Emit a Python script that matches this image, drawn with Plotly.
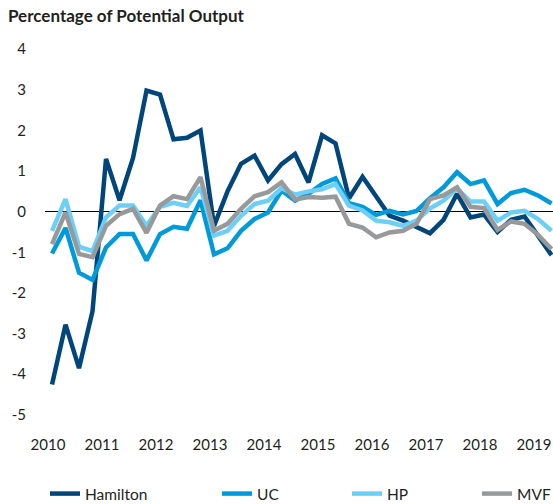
import plotly.graph_objects as go

quarters = [f"{y}Q{q}" for y in range(2010, 2020) for q in range(1, 5)][:38]
years = ["2010", "2011", "2012", "2013", "2014", "2015", "2016", "2017", "2018", "2019"]
year_pos = [quarters.index(f"{y}Q1") for y in years]

hamilton = [-4.25, -2.78, -3.85, -2.45, 1.30, 0.28, 1.32, 2.98, 2.88, 1.78,
            1.82, 2.00, -0.35, 0.50, 1.18, 1.38, 0.77, 1.17, 1.42, 0.72,
            1.88, 1.68, 0.33, 0.86, 0.38, -0.10, -0.22, -0.38, -0.53, -0.20,
            0.44, -0.14, -0.07, -0.50, -0.20, -0.12, -0.60, -1.07]
uc = [-1.03, -0.40, -1.50, -1.68, -0.88, -0.55, -0.55, -1.20, -0.55, -0.37,
      -0.42, 0.28, -1.05, -0.90, -0.47, -0.18, -0.02, 0.52, 0.27, 0.44,
      0.68, 0.82, 0.21, 0.12, -0.08, 0.02, -0.07, 0.02, 0.33, 0.60,
      0.97, 0.68, 0.77, 0.19, 0.46, 0.54, 0.40, 0.20]
hp = [-0.47, 0.31, -0.86, -0.97, -0.14, 0.15, 0.15, -0.35, 0.12, 0.22,
      0.14, 0.60, -0.59, -0.47, -0.10, 0.19, 0.27, 0.58, 0.42, 0.50,
      0.55, 0.68, 0.15, 0.03, -0.22, -0.26, -0.35, -0.22, 0.08, 0.27,
      0.57, 0.25, 0.25, -0.22, -0.02, 0.02, -0.18, -0.47]
mvf = [-0.80, -0.02, -1.04, -1.12, -0.35, -0.06, 0.07, -0.52, 0.15, 0.38,
       0.31, 0.85, -0.47, -0.30, 0.07, 0.38, 0.48, 0.72, 0.30, 0.36,
       0.34, 0.37, -0.30, -0.39, -0.63, -0.51, -0.47, -0.30, 0.31, 0.40,
       0.60, 0.12, 0.09, -0.45, -0.24, -0.30, -0.57, -0.92]

y_ticks = [-5, -4, -3, -2, -1, 0, 1, 2, 3, 4]

series = [
    ("Hamilton", hamilton, "#00467A", "legend"),
    ("UC", uc, "#009ADA", "legend2"),
    ("HP", hp, "#6DCFF6", "legend3"),
    ("MVF", mvf, "#98999B", "legend4"),
]

x = list(range(len(quarters)))
FONT = "Lato"
TXT = "#231f20"

fig = go.Figure()
for name, vals, color, leg in series:
    fig.add_trace(go.Scatter(
        x=x, y=vals, name=name, mode="lines",
        line=dict(color=color, width=4.5, shape="linear"),
        legend=leg,
        hovertext=quarters,
    ))

W, H = 553, 504
L, R, T, B = 45, 0, 41, 81
pw = W - L - R
ph = H - T - B

def legx(px):
    return (px - L) / pw

leg_y = (H - B - 494) / ph
leg_common = dict(orientation="h", yanchor="middle", y=leg_y, xanchor="left",
                  font=dict(family=FONT, size=15.5, color=TXT),
                  bgcolor="rgba(0,0,0,0)", borderwidth=0)

# year labels sit slightly left of the Q1 point in the reference
label_shift = -0.3

fig.update_layout(
    width=W, height=H,
    margin=dict(l=L, r=R, t=T, b=B, pad=0, autoexpand=False),
    paper_bgcolor="white", plot_bgcolor="white",
    font=dict(family=FONT, size=15, color=TXT),
    title=dict(text="<b>Percentage of Potential Output</b>",
               xref="container", yref="container",
               x=8 / W, xanchor="left", y=1 - 16 / H, yanchor="middle",
               font=dict(family=FONT, size=17, color=TXT)),
    xaxis=dict(range=[-0.52, 37.11],
               tickvals=[p + label_shift for p in year_pos], ticktext=years,
               showgrid=False, zeroline=False, showline=False, ticks="",
               tickfont=dict(family=FONT, size=15, color=TXT),
               ticklabelstandoff=11, automargin=False,
               ticklabeloverflow="allow"),
    yaxis=dict(range=[-5.2, 4.2], tickvals=y_ticks,
               ticktext=[str(v) for v in y_ticks],
               showgrid=False, zeroline=True, zerolinecolor="#000000",
               zerolinewidth=1, showline=False, ticks="",
               tickfont=dict(family=FONT, size=15, color=TXT),
               ticklabelstandoff=18, automargin=False),
    legend=dict(x=legx(45), **leg_common),
    legend2=dict(x=legx(217), **leg_common),
    legend3=dict(x=legx(347), **leg_common),
    legend4=dict(x=legx(477), **leg_common),
    showlegend=True,
)

fig.write_html("out.html",
               config={"displayModeBar": False},
               post_script="document.body.style.margin='0';document.body.style.overflow='hidden';")
